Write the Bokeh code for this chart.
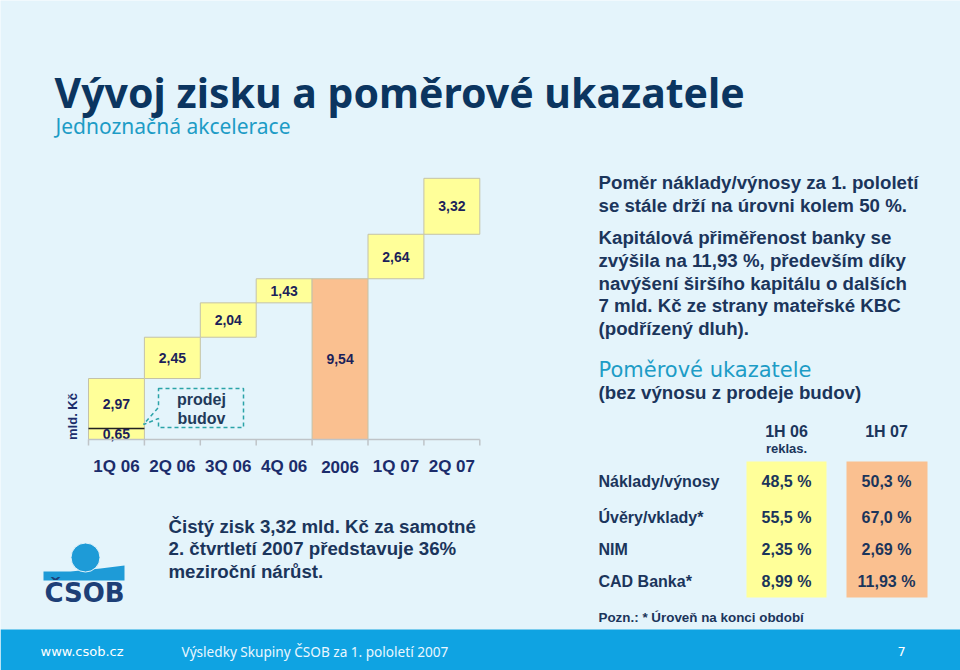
import math
from bokeh.plotting import figure
from bokeh.models import Range1d, ColumnDataSource
from bokeh.core.properties import value
from bokeh.embed import file_html
from bokeh.resources import INLINE

# ---------------- data ----------------
categories = ["1Q 06", "2Q 06", "3Q 06", "4Q 06", "2006", "1Q 07", "2Q 07"]
building_sale = 0.65                       # one-off (prodej budov) in 1Q 06
profit_2006_q = [2.97, 2.45, 2.04, 1.43]   # quarterly net profit 2006
profit_2006_total = 9.54
profit_2007_q = [2.64, 3.32]

ratio_names = ["Náklady/výnosy", "Úvěry/vklady*", "NIM", "CAD Banka*"]
ratio_1h06 = ["48,5 %", "55,5 %", "2,35 %", "8,99 %"]
ratio_1h07 = ["50,3 %", "67,0 %", "2,69 %", "11,93 %"]

title = "Vývoj zisku a poměrové ukazatele"
subtitle = "Jednoznačná akcelerace"
right_par1 = ["Poměr náklady/výnosy za 1. pololetí", "se stále drží na úrovni kolem 50 %."]
right_par2 = ["Kapitálová přiměřenost banky se", "zvýšila na 11,93 %, především díky",
              "navýšení širšího kapitálu o dalších", "7 mld. Kč ze strany mateřské KBC",
              "(podřízený dluh)."]
left_par = ["Čistý zisk 3,32 mld. Kč za samotné", "2. čtvrtletí 2007 představuje 36%",
            "meziroční nárůst."]

# ---------------- colours ----------------
BG = "#E4F4FB"
NAVY = "#1B355B"
TEAL = "#1D9CC6"
YELLOW = "#FFFF99"
ORANGE = "#FAC090"
FOOT = "#0FA3E2"

W, H = 960, 670
p = figure(width=W, height=H, x_range=Range1d(0, W), y_range=Range1d(H, 0),
           x_axis_type=None, y_axis_type=None, toolbar_location=None,
           output_backend="svg", min_border=0)
p.background_fill_color = BG
p.border_fill_color = BG
p.outline_line_color = None
p.xgrid.visible = False
p.ygrid.visible = False

# chart ranges: map categories/values into the chart region of the slide
X0, CW = 88.0, 55.9      # left edge of chart, category width (px)
Y0, PU = 439.0, 16.85    # baseline (px from top), px per unit
p.extra_x_ranges = {"cat": Range1d(-X0 / CW, (W - X0) / CW)}
p.extra_y_ranges = {"val": Range1d(-(H - Y0) / PU, Y0 / PU)}

def fmt(v):
    return f"{v:.2f}".replace(".", ",")

xs, bottoms, tops, colors, labels = [], [], [], [], []
# 1Q 06: building sale + operating profit
xs += [0.5, 0.5]
bottoms += [0, building_sale]
tops += [building_sale, building_sale + profit_2006_q[0]]
colors += [YELLOW, YELLOW]
labels += [fmt(building_sale), fmt(profit_2006_q[0])]
cum = building_sale + profit_2006_q[0]
for i, v in enumerate(profit_2006_q[1:], start=1):
    xs.append(i + 0.5); bottoms.append(cum); tops.append(cum + v)
    colors.append(YELLOW); labels.append(fmt(v)); cum += v
xs.append(4.5); bottoms.append(0); tops.append(profit_2006_total)
colors.append(ORANGE); labels.append(fmt(profit_2006_total))
cum = profit_2006_total
for i, v in enumerate(profit_2007_q, start=5):
    xs.append(i + 0.5); bottoms.append(cum); tops.append(cum + v)
    colors.append(YELLOW); labels.append(fmt(v)); cum += v

src = ColumnDataSource(dict(x=xs, bottom=bottoms, top=tops, color=colors, label=labels,
                            mid=[(b + t) / 2 for b, t in zip(bottoms, tops)]))
p.vbar(x="x", bottom="bottom", top="top", width=1.0, fill_color="color",
       line_color="#C4C2A8", line_width=1, source=src,
       x_range_name="cat", y_range_name="val")
# separator between building sale and operating profit
p.segment(x0=[0], y0=[building_sale], x1=[1], y1=[building_sale], line_color="#222222",
          line_width=1.5, x_range_name="cat", y_range_name="val")
p.text(x="x", y="mid", text="label", source=src, text_align="center",
       text_baseline="middle", text_font=value("Liberation Sans"), text_font_style="bold",
       text_font_size="14px", text_color="#1C1F5A", x_range_name="cat", y_range_name="val")

# axis line, ticks and category labels
n = len(categories)
p.segment(x0=[0], y0=[0], x1=[n], y1=[0], line_color="#BFC4C8", line_width=1.5,
          x_range_name="cat", y_range_name="val")
p.segment(x0=list(range(n + 1)), y0=[0] * (n + 1), x1=list(range(n + 1)),
          y1=[-6 / PU] * (n + 1), line_color="#BFC4C8", line_width=1.5,
          x_range_name="cat", y_range_name="val")
p.text(x=[i + 0.5 for i in range(n)], y=[0] * n, text=categories, y_offset=27,
       text_align="center", text_baseline="middle", text_font=value("Liberation Sans"),
       text_font_style="bold", text_font_size="17px", text_color="#1B2C6B",
       x_range_name="cat", y_range_name="val")
p.text(x=[72], y=[416], text=["mld. Kč"], angle=math.pi / 2, text_align="center",
       text_baseline="middle", text_font=value("Liberation Sans"), text_font_style="bold",
       text_font_size="13px", text_color="#1B2C6B")

# callout "prodej budov"
p.patch(x=[158, 243, 243, 158, 158, 143, 158, 158], y=[388, 388, 427, 427, 418, 424, 407, 388],
        fill_alpha=0, line_color="#2BA3A8", line_width=1.5, line_dash="4 3")
p.text(x=[201, 201], y=[399, 418], text=["prodej", "budov"], text_align="center",
       text_baseline="middle", text_font=value("Liberation Sans"), text_font_style="bold",
       text_font_size="16px", text_color="#1F3A5A")

# titles
p.text(x=[54], y=[91], text=[title], text_font=value("Noto Sans"), text_font_size="41px",
       text_font_style="bold", text_color="#0B3560", text_baseline="middle")
p.text(x=[55], y=[125], text=[subtitle], text_font=value("Noto Sans"), text_font_size="21px",
       text_color=TEAL, text_baseline="middle")

# right column text
body = dict(text_font=value("Liberation Sans"), text_font_style="bold",
            text_font_size="18.7px", text_color=NAVY, text_baseline="middle")
p.text(x=[598] * 2, y=[182, 205], text=right_par1, **body)
p.text(x=[598] * 5, y=[237, 260, 283, 305, 328], text=right_par2, **body)
p.text(x=[598], y=[369], text=["Poměrové ukazatele"], text_font=value("DejaVu Sans"),
       text_font_size="21px", text_color=TEAL, text_baseline="middle")
p.text(x=[598], y=[392], text=["(bez výnosu z prodeje budov)"], **body)

# table
row_y = [481, 517, 549, 581]
p.quad(left=[746], right=[826], top=[461], bottom=[597], fill_color=YELLOW, line_color=None)
p.quad(left=[846], right=[927], top=[461], bottom=[597], fill_color=ORANGE, line_color=None)
tab = dict(text_font=value("Liberation Sans"), text_font_style="bold",
           text_font_size="16px", text_color=NAVY, text_baseline="middle")
p.text(x=[786, 886], y=[431, 431], text=["1H 06", "1H 07"], text_align="center", **tab)
p.text(x=[786], y=[448], text=["reklas."], text_align="center", text_font=value("Liberation Sans"),
       text_font_style="bold", text_font_size="13px", text_color=NAVY, text_baseline="middle")
p.text(x=[598] * 4, y=row_y, text=ratio_names, **tab)
p.text(x=[786] * 4, y=row_y, text=ratio_1h06, text_align="center", **tab)
p.text(x=[886] * 4, y=row_y, text=ratio_1h07, text_align="center", **tab)
p.text(x=[598], y=[617], text=["Pozn.: * Úroveň na konci období"], text_font=value("Liberation Sans"),
       text_font_style="bold", text_font_size="13.4px", text_color=NAVY, text_baseline="middle")

# left bottom text
p.text(x=[168] * 3, y=[526, 548, 571], text=left_par, **body)

# logo
p.patch(x=[43, 70, 100, 124, 124, 43], y=[571, 571, 568, 565, 580, 580], fill_color="#1E9BD7",
        line_color=None)
p.circle(x=[85], y=[557], radius=14.5, fill_color="#1E9BD7", line_color=BG, line_width=1)
p.text(x=[84], y=[592], text=["ČSOB"], text_align="center", text_baseline="middle",
       text_font=value("DejaVu Sans"), text_font_style="bold", text_font_size="26px",
       text_color="#1D3F77")

# footer
p.quad(left=[0], right=[W], top=[629], bottom=[H], fill_color=FOOT, line_color=None)
foot = dict(text_font=value("DejaVu Sans"), text_font_size="13px", text_color="white",
            text_baseline="middle")
p.text(x=[40], y=[651], text=["www.csob.cz"], **foot)
p.text(x=[181], y=[651], text=["Výsledky Skupiny ČSOB za 1. pololetí 2007"],
       text_font=value("Noto Sans"), text_font_size="13.6px", text_color="#EAF7FF",
       text_baseline="middle")
p.text(x=[897], y=[651], text=["7"], **foot)

open("out.html", "w").write(file_html(p, INLINE))
